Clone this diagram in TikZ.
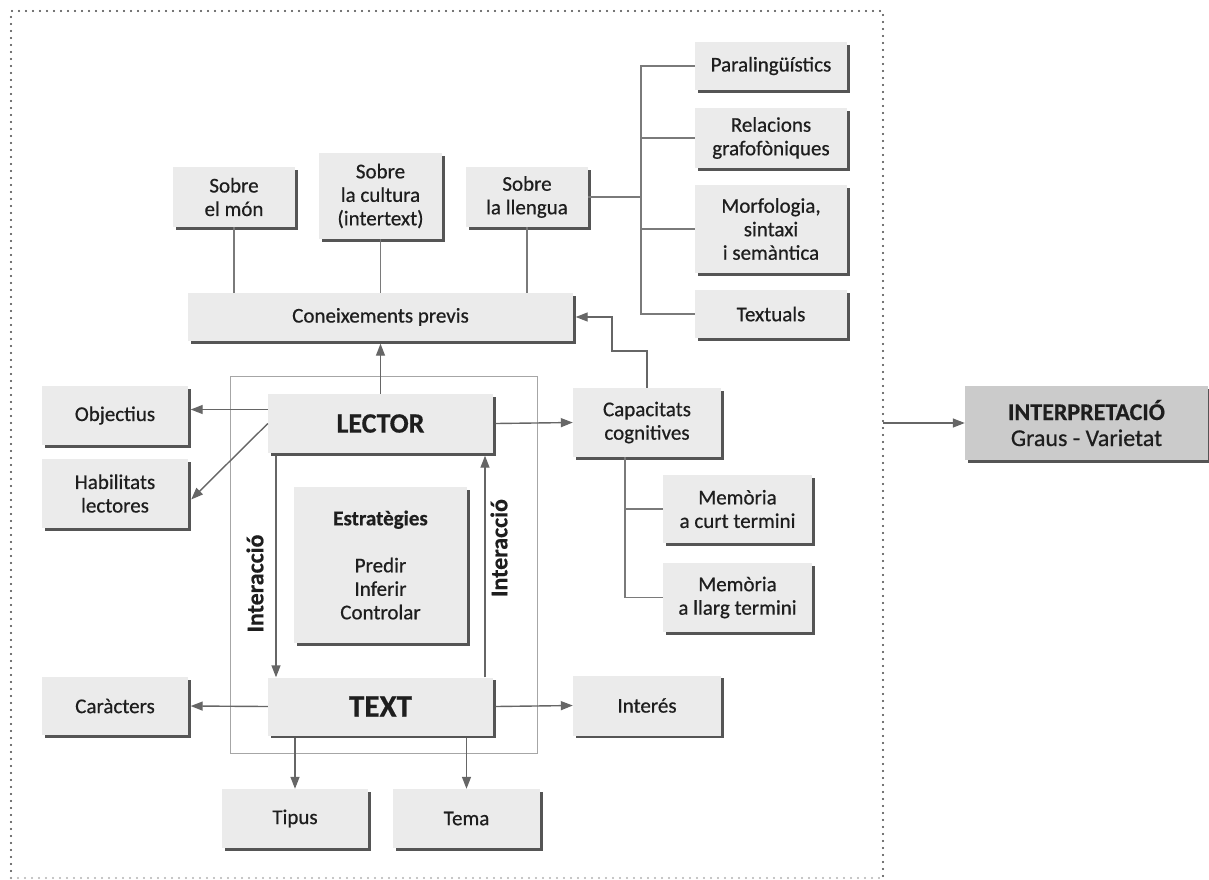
\documentclass[tikz,border=0pt]{standalone}
\usepackage{fontspec}
\setmainfont{Carlito}[UprightFeatures={FakeBold=0.6}]
\newfontfamily\boldfam{Carlito}[UprightFont=*-Bold, UprightFeatures={FakeBold=0.5}]
\usetikzlibrary{arrows.meta,shadows}
\definecolor{boxfill}{HTML}{EBEBEB}
\definecolor{interpfill}{HTML}{CBCBCB}
\definecolor{shade}{HTML}{555555}
\definecolor{lncol}{HTML}{7A7A7A}
\definecolor{arcol}{HTML}{666666}
\definecolor{txt}{HTML}{1E1E1E}
\definecolor{dotcol}{HTML}{444444}
\newcommand\fsreg{\fontsize{21}{23.5}\selectfont}
\tikzset{
  box/.style={fill=boxfill, draw=none, inner sep=0pt, align=center, text=txt, font=\fsreg,
    drop shadow={shadow xshift=2.5pt, shadow yshift=-2.5pt, fill=shade, opacity=1}},
  ln/.style={draw=lncol, line width=1.4pt},
  arr/.style={draw=arcol, line width=1.4pt, -{Triangle[length=12pt,width=9pt]}},
  lab/.style={font=\fontsize{24}{26}\boldfam, text=txt, inner sep=0pt},
  dots/.style={line width=2.2pt, line cap=round, dash pattern=on 0pt off 7pt},
}
\begin{document}
\begin{tikzpicture}[x=1pt,y=-1pt]
\useasboundingbox (0,0) rectangle (1209,879);
% outer dotted frame
\draw[dots, dotcol] (11,878) -- (11,11) -- (883,11) -- (883,878);
\draw[dots, black!30] (11,878) -- (883,878);
% inner frame
\node[draw=black!35, line width=1pt, minimum width=307pt, minimum height=377pt, inner sep=0pt] (inner) at (383.5,564.5) {};
% boxes
\node[box, minimum width=122pt, minimum height=60pt] (mon) at (234,197) {Sobre\\el món};
\node[box, minimum width=123pt, minimum height=86pt] (cultura) at (380.5,196) {Sobre\\la cultura\\(intertext)};
\node[box, minimum width=122pt, minimum height=60pt] (llengua) at (527,197) {Sobre\\la llengua};
\node[box, minimum width=385pt, minimum height=48pt] (previs) at (380.5,317) {Coneixements previs};
\node[box, minimum width=152pt, minimum height=48pt] (para) at (771,66) {Paralingüístics};
\node[box, minimum width=152pt, minimum height=60pt] (relac) at (771,138) {Relacions\\grafofòniques};
\node[box, minimum width=152pt, minimum height=88pt] (morf) at (771,229) {Morfologia,\\sintaxi\\i semàntica};
\node[box, minimum width=152pt, minimum height=48pt] (textuals) at (771,314) {Textuals};
\node[box, minimum width=148pt, minimum height=69pt] (capac) at (647,422.5) {Capacitats\\cognitives};
\node[box, minimum width=149pt, minimum height=68pt] (mcurt) at (737.5,509) {Memòria\\a curt termini};
\node[box, minimum width=149pt, minimum height=69pt] (mllarg) at (737.5,597.5) {Memòria\\a llarg termini};
\node[box, minimum width=148pt, minimum height=60pt] (interes) at (647,705.5) {Interés};
\node[box, minimum width=225pt, minimum height=59pt, font=\fontsize{28}{30}\boldfam] (lector) at (380.5,423.5) {LECTOR};
\node[box, minimum width=225pt, minimum height=58pt, font=\fontsize{31}{32}\boldfam] (text) at (380.5,706.5) {TEXT};
\node[box, minimum width=173pt, minimum height=156pt] (estrat) at (380.5,565) {{\boldfam Estratègies}\\[23.5pt]Predir\\Inferir\\Controlar};
\node[box, minimum width=146pt, minimum height=59pt] (objectius) at (115,415.5) {Objectius};
\node[box, minimum width=146pt, minimum height=69pt] (habil) at (115,493.5) {Habilitats\\lectores};
\node[box, minimum width=146pt, minimum height=58pt] (caracters) at (115,706) {Caràcters};
\node[box, minimum width=146pt, minimum height=59pt] (tipus) at (295,818.5) {Tipus};
\node[box, minimum width=147pt, minimum height=59pt] (tema) at (466.5,818.5) {Tema};
\node[box, fill=interpfill, minimum width=243pt, minimum height=74pt, font=\fontsize{24}{26}\selectfont] (interp) at (1086.5,423) {{\boldfam INTERPRETACIÓ}\\Graus - Varietat};
% labels
\node[lab, rotate=90] (lbl1) at (255,583.5) {Interacció};
\node[lab, rotate=90] (lbl2) at (499,548) {Interacció};
% connectors (plain)
\draw[ln] (mon.south) -- (mon.south |- previs.north);
\draw[ln] (cultura.south) -- (cultura.south |- previs.north);
\draw[ln] (llengua.south) -- (llengua.south |- previs.north);
\coordinate (tk) at (641,0);
\draw[ln] (llengua.east) -- (llengua.east -| tk);
\draw[ln] (para.west) -| (tk |- textuals.west) -- (textuals.west);
\draw[ln] (tk |- relac.west) -- (relac.west);
\draw[ln] (tk |- morf.west) -- (morf.west);
\coordinate (ck) at (625,0);
\draw[ln] (capac.south -| ck) |- (mllarg.west);
\draw[ln] (ck |- mcurt.west) -- (mcurt.west);
% arrows
\coordinate (k1) at (612,351);
\draw[arr] (capac.north) |- (k1) |- ([xshift=2.5pt]previs.east);
\draw[arr] (lector.north) -- ([yshift=-2.5pt]previs.south);
\coordinate (oa) at ([xshift=2.5pt,yshift=6pt]objectius.east);
\draw[arr] (lector.west |- oa) -- (oa);
\draw[arr] (lector.west) -- ([xshift=3pt,yshift=-6pt]habil.east);
\draw[arr] ([xshift=2.5pt]lector.east) -- (capac.west);
\draw[arr] (text.west) -- ([xshift=2.5pt]caracters.east);
\draw[arr] ([xshift=2.5pt]text.east) -- (interes.west);
\draw[arr] ([yshift=-2.5pt]text.south -| tipus.north) -- (tipus.north);
\draw[arr] ([yshift=-2.5pt]text.south -| tema.north) -- (tema.north);
\coordinate (il) at (276,0);
\coordinate (ir) at (485,0);
\draw[arr] ([yshift=-2.5pt]lector.south -| il) -- (text.north -| il);
\draw[arr] (text.north -| ir) -- ([yshift=-2.5pt]lector.south -| ir);
\coordinate (fr) at (883,423);
\draw[arr] (fr) -- (interp.west);
\end{tikzpicture}
\end{document}
